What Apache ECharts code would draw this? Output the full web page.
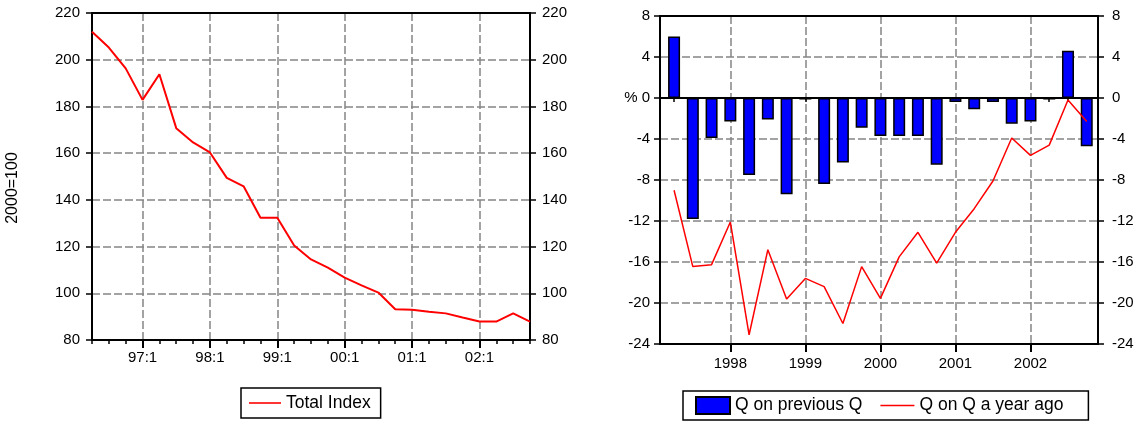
<!DOCTYPE html>
<html>
<head>
<meta charset="utf-8">
<script src="https://cdn.jsdelivr.net/npm/echarts@6/dist/echarts.min.js"></script>
<style>
html,body{margin:0;padding:0;background:#fff;}
#c{width:1140px;height:423px;}
</style>
</head>
<body>
<div id="c"></div>
<script>
// ---- Left chart data ----
const leftQuarters = ['96:2','96:3','96:4','97:1','97:2','97:3','97:4','98:1','98:2','98:3','98:4',
  '99:1','99:2','99:3','99:4','00:1','00:2','00:3','00:4','01:1','01:2','01:3','01:4','02:1','02:2','02:3','02:4'];
const totalIndex = [212, 205.2, 196.3, 182.8, 193.8, 170.7, 164.6, 160.3, 149.4, 145.8, 132.3,
  132.3, 120.5, 114.5, 111, 106.7, 103.4, 100.3, 93.2, 93, 92.1, 91.4, 89.6, 87.9, 87.9, 91.4, 87.9];
const leftYTicks = [80, 100, 120, 140, 160, 180, 200, 220];
const leftYName = '2000=100';

// ---- Right chart data ----
const rightQuarters = ['97:2','97:3','97:4','98:1','98:2','98:3','98:4','99:1','99:2','99:3','99:4',
  '00:1','00:2','00:3','00:4','01:1','01:2','01:3','01:4','02:1','02:2','02:3','02:4'];
const qOnPrevQ = [6.0, -11.8, -3.9, -2.3, -7.5, -2.1, -9.4, -0.15, -8.4, -6.3, -2.9,
  -3.7, -3.7, -3.7, -6.5, -0.4, -1.1, -0.4, -2.5, -2.3, -0.15, 4.6, -4.7];
const qOnQYearAgo = [-9.0, -16.45, -16.26, -12.1, -23.1, -14.8, -19.6, -17.6, -18.4, -22.0, -16.45,
  -19.55, -15.5, -13.1, -16.1, -13.1, -10.8, -8.1, -3.9, -5.6, -4.6, -0.2, -2.3];
const rightYTicks = [-24, -20, -16, -12, -8, -4, 0, 4, 8];
const yearLabels = ['1998', '1999', '2000', '2001', '2002'];

// ---- derived ----
const FONT = "'Liberation Sans', Arial, sans-serif";
const leftYearIdx = leftQuarters.map((q, i) => q.endsWith(':1') ? i : -1).filter(i => i >= 0);
const rightYearIdx = rightQuarters.map((q, i) => q.endsWith(':1') ? i : -1).filter(i => i >= 0);
const leftAllIdx = leftQuarters.map((q, i) => i);
const rightAllIdx = rightQuarters.map((q, i) => i);

const dashStyle = {color: '#858585', width: 1.5, type: [8, 3]};
const gridLineY = {show: true, showMinLine: false, showMaxLine: false, lineStyle: dashStyle};
const gridLineX = {show: true, showMinLine: true, showMaxLine: true, lineStyle: dashStyle};
const axisLineBlack = {show: true, onZero: false, lineStyle: {color: '#000', width: 2}};
const labelStyle = {color: '#000', fontSize: 15, fontFamily: FONT};
const lineIcon = 'path://M0,0h40v2h-40z';
const LMAX = leftQuarters.length - 1;
const RMIN = -0.75, RMAX = rightQuarters.length - 0.4;

function frameTop(gridIndex, min, max) {
  return {
    gridIndex, type: 'value', min, max, position: 'top',
    axisLine: axisLineBlack, axisTick: {show: false}, axisLabel: {show: false}, splitLine: {show: false}
  };
}

const chart = echarts.init(document.getElementById('c'), null, {renderer: 'canvas'});
chart.setOption({
  animation: false,
  backgroundColor: '#fff',
  grid: [
    {left: 92, top: 13, width: 438, height: 327},
    {left: 660, top: 16, width: 438, height: 328}
  ],
  graphic: [
    {
      type: 'text', x: 13, y: 188, rotation: Math.PI / 2,
      style: {text: leftYName, fill: '#000', font: '16px ' + FONT, align: 'center', verticalAlign: 'middle'}
    }
  ],
  legend: [
    {
      data: [{name: 'Total Index', icon: lineIcon}], left: 241, top: 388, orient: 'horizontal',
      itemWidth: 32, itemHeight: 14, padding: [6, 10, 6, 8],
      borderColor: '#000', borderWidth: 1.5,
      textStyle: {color: '#000', fontSize: 17.5, fontFamily: FONT}
    },
    {
      data: [{name: 'Q on previous Q', icon: 'rect'}, {name: 'Q on Q a year ago', icon: lineIcon}],
      left: 683, top: 391, orient: 'horizontal',
      itemWidth: 34, itemHeight: 17, itemGap: 18, padding: [5, 25, 5, 12],
      borderColor: '#000', borderWidth: 1.5,
      textStyle: {color: '#000', fontSize: 17.5, fontFamily: FONT}
    }
  ],
  xAxis: [
    {
      gridIndex: 0, type: 'value', min: 0, max: LMAX, position: 'bottom',
      axisLine: axisLineBlack,
      axisTick: {show: true, length: 8, customValues: leftYearIdx, lineStyle: {color: '#000', width: 2}},
      axisLabel: {show: true, margin: 10, customValues: leftYearIdx, formatter: v => leftQuarters[Math.round(v)], ...labelStyle},
      splitLine: gridLineX
    },
    {
      gridIndex: 0, type: 'value', min: 0, max: LMAX, position: 'bottom',
      axisLine: {show: false},
      axisTick: {show: true, length: 4, customValues: leftAllIdx, lineStyle: {color: '#000', width: 1.5}},
      axisLabel: {show: false}, splitLine: {show: false}
    },
    frameTop(0, 0, LMAX),
    {
      gridIndex: 1, type: 'value', min: RMIN, max: RMAX, position: 'bottom',
      axisLine: axisLineBlack,
      axisTick: {show: true, length: 8, customValues: rightYearIdx, lineStyle: {color: '#000', width: 2}},
      axisLabel: {show: true, margin: 12, customValues: rightYearIdx,
        formatter: v => yearLabels[rightYearIdx.indexOf(Math.round(v))], ...labelStyle},
      splitLine: gridLineX
    },
    {
      gridIndex: 1, type: 'value', min: RMIN, max: RMAX, position: 'bottom',
      axisLine: {show: false},
      axisTick: {show: true, length: 4, customValues: rightAllIdx, lineStyle: {color: '#000', width: 1.5}},
      axisLabel: {show: false}, splitLine: {show: false}
    },
    frameTop(1, RMIN, RMAX)
  ],
  yAxis: [
    {
      gridIndex: 0, type: 'value', position: 'left',
      min: leftYTicks[0], max: leftYTicks[leftYTicks.length - 1], interval: leftYTicks[1] - leftYTicks[0],
      axisLine: axisLineBlack,
      axisTick: {show: true, length: 6, lineStyle: {color: '#000', width: 1.5}},
      axisLabel: {margin: 12, ...labelStyle},
      splitLine: gridLineY
    },
    {
      gridIndex: 0, type: 'value', position: 'right',
      min: leftYTicks[0], max: leftYTicks[leftYTicks.length - 1], interval: leftYTicks[1] - leftYTicks[0],
      axisLine: axisLineBlack,
      axisTick: {show: true, length: 6, lineStyle: {color: '#000', width: 1.5}},
      axisLabel: {margin: 12, ...labelStyle},
      splitLine: {show: false}
    },
    {
      gridIndex: 1, type: 'value', position: 'left',
      min: rightYTicks[0], max: rightYTicks[rightYTicks.length - 1], interval: rightYTicks[1] - rightYTicks[0],
      axisLine: axisLineBlack,
      axisTick: {show: true, length: 6, lineStyle: {color: '#000', width: 1.5}},
      axisLabel: {margin: 10, formatter: v => v === 0 ? '% 0' : String(v), ...labelStyle},
      splitLine: gridLineY
    },
    {
      gridIndex: 1, type: 'value', position: 'right',
      min: rightYTicks[0], max: rightYTicks[rightYTicks.length - 1], interval: rightYTicks[1] - rightYTicks[0],
      axisLine: axisLineBlack,
      axisTick: {show: true, length: 6, lineStyle: {color: '#000', width: 1.5}},
      axisLabel: {margin: 14, ...labelStyle},
      splitLine: {show: false}
    }
  ],
  series: [
    {
      name: 'Total Index', type: 'line', xAxisIndex: 0, yAxisIndex: 0,
      data: totalIndex.map((v, i) => [i, v]),
      symbol: 'none', z: 5,
      lineStyle: {color: '#ff0000', width: 2}, itemStyle: {color: '#ff0000'}
    },
    {
      name: 'Q on previous Q', type: 'bar', xAxisIndex: 3, yAxisIndex: 2,
      data: qOnPrevQ.map((v, i) => [i, v]),
      barWidth: 12, z: 4,
      itemStyle: {color: '#0000ff', borderColor: '#000', borderWidth: 1.5},
      markLine: {
        silent: true, symbol: ['none', 'none'], label: {show: false},
        lineStyle: {color: '#000', width: 2, type: 'solid'},
        data: [{yAxis: 0}]
      }
    },
    {
      name: 'Q on Q a year ago', type: 'line', xAxisIndex: 3, yAxisIndex: 2,
      data: qOnQYearAgo.map((v, i) => [i, v]),
      symbol: 'none', z: 6,
      lineStyle: {color: '#ff0000', width: 1.5}, itemStyle: {color: '#ff0000'}
    }
  ]
});
</script>
</body>
</html>
